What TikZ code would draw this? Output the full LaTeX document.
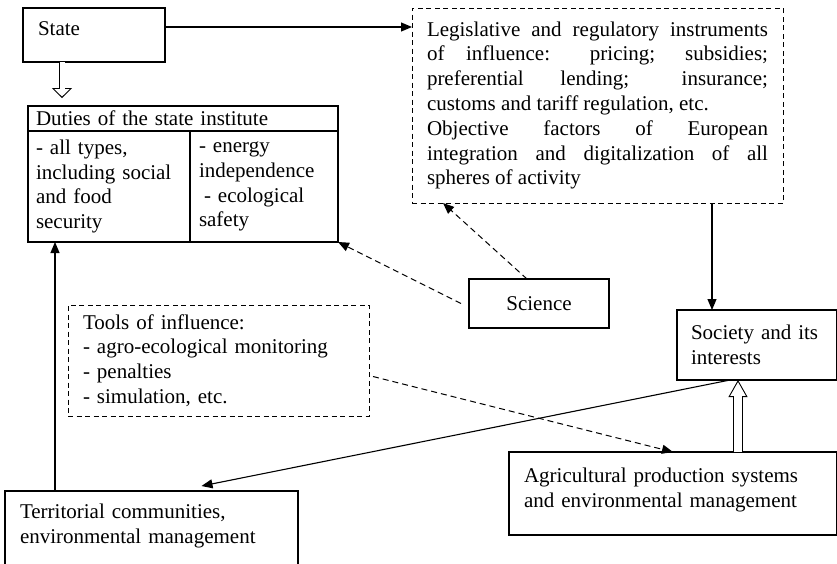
\documentclass[tikz,border=0pt]{standalone}
\usepackage{fontspec}
\setmainfont{Liberation Serif}
\usetikzlibrary{arrows.meta}

\begin{document}
\begin{tikzpicture}[
  x=1pt, y=-1pt,
  box/.style={draw,line width=1.1pt,anchor=north west,align=left,inner xsep=15pt,inner ysep=0pt,outer sep=0pt,font=\fontsize{21}{24.8}\selectfont},
  dbox/.style={box,line width=1pt,dash pattern=on 5pt off 3.5pt},
  cell/.style={box,inner xsep=8pt},
  arrow/.style={-{Triangle[length=11pt,width=9pt]},line width=1.1pt},
  darrow/.style={arrow,line width=1pt,dash pattern=on 6pt off 4pt},
  hshaft/.style={double,double distance=5pt,line width=0.9pt},
  hhead/.style={-{Triangle[fill=white,length=10pt,width=20pt]},line width=0.9pt}
]
\useasboundingbox (0,0) rectangle (837,563);
% boxes
\node[box,text width=112pt,minimum height=54pt,text depth=12pt] (state) at (23,8) {State};
\node[dbox,align=justify,text width=341pt,minimum height=195pt] (legis) at (412,8)
  {Legislative and regulatory instruments\linebreak of influence: pricing; subsidies;\linebreak preferential lending; insurance;\linebreak customs and tariff regulation, etc.\\Objective factors of European\linebreak integration and digitalization of all\linebreak spheres of activity};
\node[cell,text width=294pt,minimum height=25pt] (dhead) at (28,106) {Duties of the state institute};
\node[cell,text width=146pt,minimum height=111pt] (dleft) at (28,131) {- all types,\\including social\\and food\\security};
\node[cell,inner xsep=9pt,text width=130pt,minimum height=111pt] (dright) at (190,131) {- energy\\independence\\\hspace*{5pt}- ecological\\safety};
\node[box,align=center,text width=110pt,minimum height=49pt] (science) at (469,279) {Science};
\node[box,inner xsep=14pt,text width=132pt,minimum height=70pt] (society) at (677,310) {Society and its\\interests};
\node[dbox,text width=271pt,minimum height=111pt] (tools) at (68,305) {Tools of influence:\\- agro-ecological monitoring\\- penalties\\- simulation, etc.};
\node[box,text width=298pt,minimum height=83pt,text depth=37pt] (agri) at (509,452) {Agricultural production systems\\and environmental management};
\node[box,text width=263pt,minimum height=75pt,text depth=35pt] (terr) at (5,491) {Territorial communities,\\environmental management};
% connectors
\draw[arrow] ([yshift=8pt]state.east) -- ([yshift=8pt]state.east -| legis.west);
\draw[hhead] ([xshift=-32pt,yshift=18pt]state.south |- dhead.north) -- ([xshift=-32pt,yshift=8pt]state.south |- dhead.north);
\draw[hshaft] ([xshift=-32pt]state.south) -- ([xshift=-32pt,yshift=17pt]state.south |- dhead.north);
\draw[arrow] ([xshift=-45pt]society.north |- legis.south) -- ([xshift=-45pt]society.north);
\draw[darrow] ([xshift=-12pt]science.north) -- ([xshift=31pt]legis.south west);
\draw[darrow] ([xshift=-8pt]science.west) -- (dright.south east);
\draw[darrow] ([xshift=4pt,yshift=-16pt]tools.east) -- (agri.north);
\draw[hhead,-{Triangle[fill=white,length=17pt,width=19pt]}] ([xshift=65pt,yshift=-17pt]agri.north |- society.south) -- ([xshift=65pt]agri.north |- society.south);
\draw[hshaft,double distance=8pt] ([xshift=65pt]agri.north) -- ([xshift=65pt,yshift=-16pt]agri.north |- society.south);
\draw[arrow] ([xshift=-27pt]society.south) -- ([xshift=50pt,yshift=5pt]terr.north);
\draw[arrow] ([xshift=50pt]terr.north west) -- ([xshift=50pt]terr.north west |- dleft.south);
\end{tikzpicture}
\end{document}
